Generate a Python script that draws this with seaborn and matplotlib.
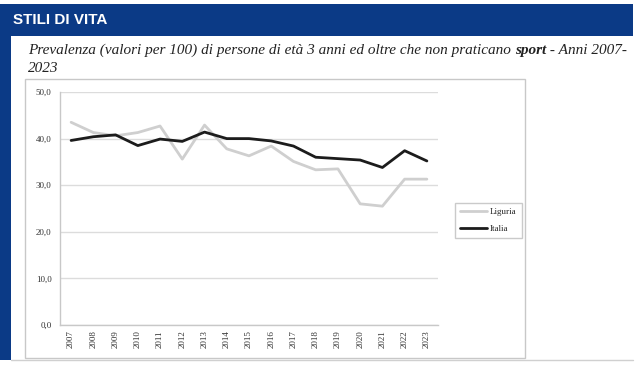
import matplotlib
matplotlib.use("Agg")
import matplotlib.pyplot as plt
import seaborn as sns
import pandas as pd
from matplotlib.patches import Rectangle

years = list(range(2007, 2024))
liguria = [43.5, 41.3, 40.6, 41.3, 42.7, 35.6, 42.9, 37.8, 36.3, 38.4, 35.1, 33.3, 33.5, 26.0, 25.5, 31.3, 31.3]
italia = [39.6, 40.4, 40.8, 38.5, 39.9, 39.4, 41.4, 40.0, 40.0, 39.5, 38.4, 36.0, 35.7, 35.4, 33.8, 37.4, 35.2]
series_names = ["Liguria", "Italia"]
yticks = [0, 10, 20, 30, 40, 50]

df = pd.DataFrame({
    "anno": years * 2,
    "valore": liguria + italia,
    "serie": [series_names[0]] * len(years) + [series_names[1]] * len(years),
})

sns.set_theme(style="white")
plt.rcParams["font.family"] = ["Liberation Serif", "DejaVu Serif"]

W, H = 640, 365
fig = plt.figure(figsize=(W / 100, H / 100), dpi=100)
fig.patch.set_facecolor("white")

def fx(x):
    return x / W

def fy(y):
    return 1 - y / H

blue = "#0b3a86"
# header band
fig.add_artist(Rectangle((fx(0), fy(36)), fx(633), 32 / H, transform=fig.transFigure,
                         facecolor=blue, edgecolor="none", zorder=0))
# left strip
fig.add_artist(Rectangle((fx(0), fy(360)), fx(11), 324 / H, transform=fig.transFigure,
                         facecolor=blue, edgecolor="none", zorder=0))
# chart box
fig.add_artist(Rectangle((fx(25), fy(358)), fx(500), 279 / H, transform=fig.transFigure,
                         facecolor="none", edgecolor="#c8c8c8", linewidth=1.0, zorder=0))
# bottom panel line
fig.add_artist(plt.Line2D([fx(11), fx(633)], [fy(360), fy(360)], transform=fig.transFigure,
                          color="#d0d0d0", linewidth=1.0))

fig.text(fx(13), fy(20), "STILI DI VITA", color="white", fontsize=11, fontweight="bold",
         family=["Liberation Sans Narrow", "Liberation Sans", "DejaVu Sans"], va="center", ha="left")

# subtitle with bold "sport"
fig.canvas.draw()
renderer = fig.canvas.get_renderer()
sub_kw = dict(fontsize=11, style="italic", color="#222222", va="baseline", ha="left",
              family=["Liberation Serif", "DejaVu Serif"])
t1 = fig.text(fx(28), fy(54), "Prevalenza (valori per 100) di persone di età 3 anni ed oltre che non praticano ", **sub_kw)
bb = t1.get_window_extent(renderer)
t2 = fig.text(bb.x1 / (W), fy(54), "sport", fontweight="bold", **sub_kw)
bb2 = t2.get_window_extent(renderer)
fig.text(bb2.x1 / W, fy(54), " - Anni 2007-", **sub_kw)
fig.text(fx(28), fy(72), "2023", **sub_kw)

ax = fig.add_axes([fx(60), fy(325), fx(438 - 60), (325 - 92) / H])
ax.set_facecolor("white")
sns.lineplot(data=df, x="anno", y="valore", hue="serie", palette=["#cfcfcf", "#1c1c1c"],
             linewidth=2.0, ax=ax, legend=True)
ax.set_xlim(2006.5, 2023.5)
ax.set_ylim(0, 50)
ax.set_yticks(yticks)
ax.set_yticklabels([f"{v:.1f}".replace(".", ",") for v in yticks], fontsize=6.5, color="#333333")
ax.set_xticks(years)
ax.set_xticklabels([str(y) for y in years], rotation=90, fontsize=6.5, color="#333333")
ax.tick_params(axis="x", length=0, pad=4)
ax.tick_params(axis="y", length=0, pad=6)
ax.set_xticks([y + 0.5 for y in [2006] + years], minor=True)
ax.tick_params(axis="x", which="minor", length=3, color="#c8c8c8", width=0.8)
ax.yaxis.grid(True, color="#dcdcdc", linewidth=1.0)
ax.set_axisbelow(True)
for s in ["top", "right"]:
    ax.spines[s].set_visible(False)
for s in ["left", "bottom"]:
    ax.spines[s].set_color("#c8c8c8")
    ax.spines[s].set_linewidth(1.0)
ax.set_xlabel("")
ax.set_ylabel("")

handles, labels = ax.get_legend_handles_labels()
ax.legend(handles, labels, loc="upper left", bbox_to_anchor=(fx(450), fy(198)),
          bbox_transform=fig.transFigure, frameon=True, fancybox=False, edgecolor="#bdbdbd",
          fontsize=6.5, handlelength=3.0, handletextpad=0.3, borderpad=0.6, labelspacing=0.9)

fig.savefig("out.png", dpi=100)
